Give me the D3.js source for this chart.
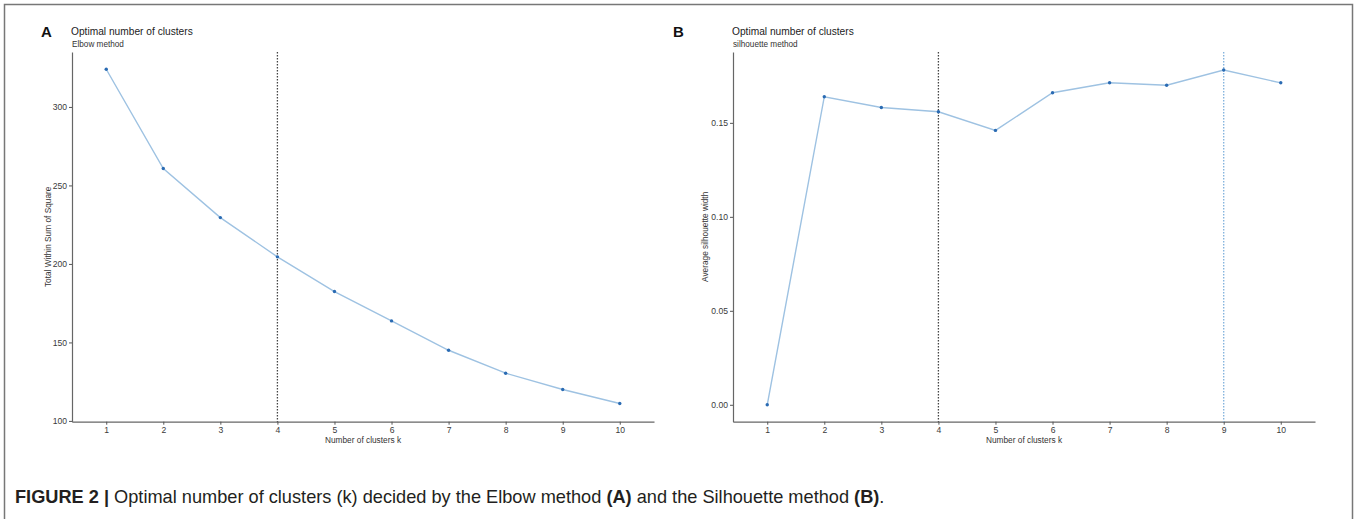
<!DOCTYPE html>
<html>
<head>
<meta charset="utf-8">
<script src="https://cdn.jsdelivr.net/npm/d3@7"></script>
<style>
  body { margin: 0; background: #fff; }
  svg { display: block; font-family: "Liberation Sans", Arial, sans-serif; }
</style>
</head>
<body>
<div id="chart"></div>
<script>
// Chart data
var clusterK = [1, 2, 3, 4, 5, 6, 7, 8, 9, 10];
var elbowWSS = [324, 260.8, 229.5, 204.5, 182.4, 163.7, 145, 130.4, 120, 111.1];
var silhouetteWidth = [0, 0.1639, 0.1582, 0.1559, 0.146, 0.166, 0.1713, 0.170, 0.1781, 0.1713];
var elbowTicks = [100, 150, 200, 250, 300];
var silhouetteTicks = [0, 0.05, 0.10, 0.15];
var elbowMarks = [4];
var silhouetteMarks = [4, 9];

var svgWidth = 1357;
var svgHeight = 519;

var svg = d3.select("#chart")
    .append("svg")
    .attr("width", svgWidth)
    .attr("height", svgHeight);

// outer frame (no bottom edge, it is cut off)
svg.append("path")
    .attr("d", "M4.5,519 V4.5 H1352.5 V519")
    .attr("fill", "none")
    .attr("stroke", "#777")
    .attr("stroke-width", 1.5);

var plotTop = 52;
var plotBottom = 421.7;

function drawPanel(opt) {
    var x = d3.scaleLinear()
        .domain([0.4, 10.6])
        .range([opt.left, opt.left + 582]);

    var y = d3.scaleLinear()
        .domain(opt.yDomain)
        .range([plotBottom, plotTop]);

    var g = svg.append("g");

    // panel letter + titles
    g.append("text")
        .attr("x", opt.letterX)
        .attr("y", 37)
        .attr("font-size", "15px")
        .attr("font-weight", "bold")
        .attr("fill", "#111")
        .text(opt.letter);

    g.append("text")
        .attr("x", opt.left - 1)
        .attr("y", 35)
        .attr("font-size", "10.2px")
        .attr("fill", "#222")
        .text("Optimal number of clusters");

    g.append("text")
        .attr("x", opt.left)
        .attr("y", 47)
        .attr("font-size", "8.2px")
        .attr("fill", "#333")
        .text(opt.subtitle);

    // axes
    var bottomAxis = d3.axisBottom(x)
        .tickValues(clusterK)
        .tickFormat(d3.format("d"))
        .tickSizeInner(3)
        .tickSizeOuter(0)
        .tickPadding(2);
    var leftAxis = d3.axisLeft(y)
        .tickValues(opt.yTicks)
        .tickFormat(opt.yFormat)
        .tickSizeInner(3)
        .tickSizeOuter(0)
        .tickPadding(2);

    var xg = g.append("g")
        .attr("transform", `translate(0, ${plotBottom})`)
        .call(bottomAxis);
    var yg = g.append("g")
        .attr("transform", `translate(${opt.left}, 0)`)
        .call(leftAxis);

    [xg, yg].forEach(function(a) {
        a.select(".domain").attr("stroke", "#666").attr("stroke-width", 1.2);
        a.selectAll(".tick line").attr("stroke", "#555");
        a.selectAll(".tick text")
            .attr("font-size", "8.6px")
            .attr("font-family", "Liberation Sans, Arial, sans-serif")
            .attr("fill", "#3a3a3a");
    });

    // axis titles
    g.append("text")
        .attr("x", opt.left + 291)
        .attr("y", 443)
        .attr("text-anchor", "middle")
        .attr("font-size", "8.3px")
        .attr("fill", "#333")
        .text("Number of clusters k");

    g.append("text")
        .attr("transform", "rotate(-90)")
        .attr("x", -(plotTop + plotBottom) / 2)
        .attr("y", opt.yTitleX)
        .attr("text-anchor", "middle")
        .attr("font-size", "8.3px")
        .attr("fill", "#333")
        .text(opt.yTitle);

    // vertical dotted markers
    g.selectAll(".vmark")
        .data(opt.marks)
        .enter()
        .append("line")
        .attr("x1", d => x(d))
        .attr("x2", d => x(d))
        .attr("y1", plotTop)
        .attr("y2", plotBottom)
        .attr("stroke", (d, i) => i === 0 ? "#444" : "#7fb0dc")
        .attr("stroke-width", 1.3)
        .attr("stroke-dasharray", "1.5,1.5");

    // line + points
    var line = d3.line()
        .x((d, i) => x(clusterK[i]))
        .y(d => y(d));

    g.append("path")
        .datum(opt.values)
        .attr("d", line)
        .attr("fill", "none")
        .attr("stroke", "#9ec2e2")
        .attr("stroke-width", 1.4);

    g.selectAll(".pt")
        .data(opt.values)
        .enter()
        .append("circle")
        .attr("cx", (d, i) => x(clusterK[i]))
        .attr("cy", d => y(d))
        .attr("r", 1.7)
        .attr("fill", "#2a6bb3");
}

drawPanel({
    letter: "A",
    letterX: 41,
    left: 72,
    subtitle: "Elbow method",
    values: elbowWSS,
    yDomain: [99.5, 335],
    yTicks: elbowTicks,
    yFormat: d3.format("d"),
    yTitle: "Total Within Sum of Square",
    yTitleX: 51,
    marks: elbowMarks
});

drawPanel({
    letter: "B",
    letterX: 673,
    left: 733,
    subtitle: "silhouette method",
    values: silhouetteWidth,
    yDomain: [-0.009, 0.1877],
    yTicks: silhouetteTicks,
    yFormat: d3.format(".2f"),
    yTitle: "Average silhouette width",
    yTitleX: 708,
    marks: silhouetteMarks
});

// figure caption
var caption = svg.append("text")
    .attr("x", 15)
    .attr("y", 503)
    .attr("font-size", "18.2px")
    .attr("fill", "#231f20");
caption.append("tspan").attr("font-weight", "bold").text("FIGURE 2 | ");
caption.append("tspan").text("Optimal number of clusters (k) decided by the Elbow method ");
caption.append("tspan").attr("font-weight", "bold").text("(A)");
caption.append("tspan").text(" and the Silhouette method ");
caption.append("tspan").attr("font-weight", "bold").text("(B)");
caption.append("tspan").text(".");
</script>
</body>
</html>
